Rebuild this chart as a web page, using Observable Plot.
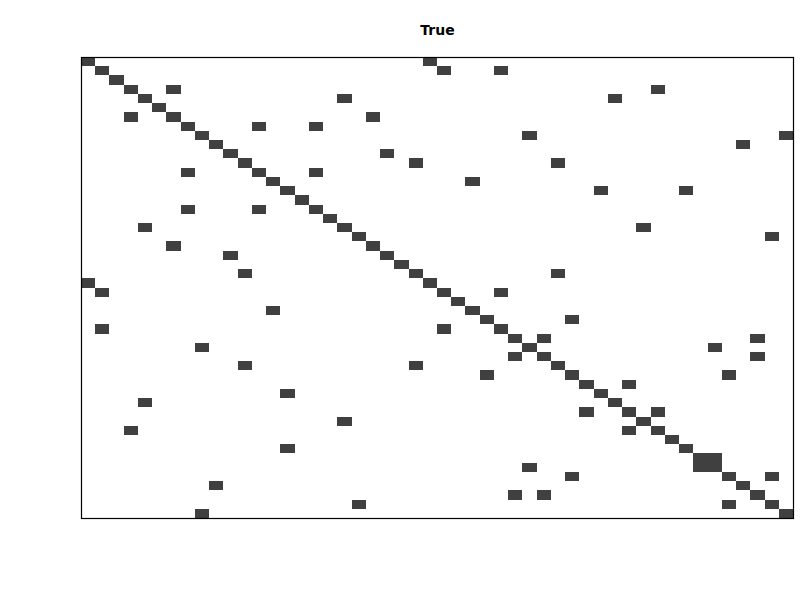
<!DOCTYPE html>
<html>
<head>
<meta charset="utf-8">
<script src="https://cdn.jsdelivr.net/npm/d3@7"></script>
<script src="https://cdn.jsdelivr.net/npm/@observablehq/plot@0.6"></script>
<style>
  html, body { margin: 0; padding: 0; background: #fff; }
</style>
</head>
<body>
<div id="chart"></div>
<script>
const matrixSize = 50;
const titleText = "True";
// nonzero entries of the matrix: row index and column index
const rowIdx = [
  0,0, 1,1,1, 2, 3,3,3, 4,4,4, 5, 6,6,6, 7,7,7, 8,8,8, 9,9, 10,10,
  11,11,11, 12,12,12, 13,13, 14,14,14, 15, 16,16,16, 17, 18,18,18, 19,19,
  20,20, 21,21, 22, 23,23,23, 24,24, 25,25,25, 26, 27,27, 28,28, 29,29,29,
  30,30,30, 31,31,31, 32,32,32, 33,33,33, 34,34,34, 35,35, 36,36, 37,37,
  38,38,38, 39,39, 40,40,40, 41, 42,42, 43,43, 44,44,44, 45,45,45, 46,46,
  47,47,47, 48,48,48, 49,49
];
const colIdx = [
  0,24, 1,25,29, 2, 3,6,40, 4,18,37, 5, 3,6,20, 7,12,16, 8,31,49, 9,46, 10,21,
  11,23,33, 7,12,16, 13,27, 14,36,42, 15, 7,12,16, 17, 4,18,39, 19,48,
  6,20, 10,21, 22, 11,23,33, 0,24, 1,25,29, 26, 13,27, 28,34, 1,25,29,
  30,32,47, 8,31,44, 30,32,47, 11,23,33, 28,34,45, 35,38, 14,36, 4,37,
  35,38,40, 18,39, 3,38,40, 41, 14,42, 43,44, 31,43,44, 34,45,48, 9,46,
  30,32,47, 19,45,48, 8,49
];

const entries = rowIdx.map((r, i) => ({row: r, col: colIdx[i]}));
const idx = d3.range(matrixSize);

const chart = Plot.plot({
  width: 800,
  height: 600,
  marginLeft: 81,
  marginRight: 7,
  marginTop: 57,
  marginBottom: 82,
  style: {fontFamily: "DejaVu Sans", background: "#fff"},
  x: {type: "band", domain: idx, padding: 0, round: false, axis: null},
  y: {type: "band", domain: idx, padding: 0, round: false, axis: null},
  marks: [
    Plot.cell(entries, {x: "col", y: "row", fill: "#404040", inset: 0, shapeRendering: "crispEdges"}),
    Plot.frame({stroke: "black", strokeWidth: 1.2}),
    Plot.text([titleText], {
      frameAnchor: "top", dy: -27, lineAnchor: "middle",
      text: d => d, fontSize: 14, fontWeight: "bold", fill: "black"
    })
  ]
});
document.getElementById("chart").appendChild(chart);
</script>
</body>
</html>
